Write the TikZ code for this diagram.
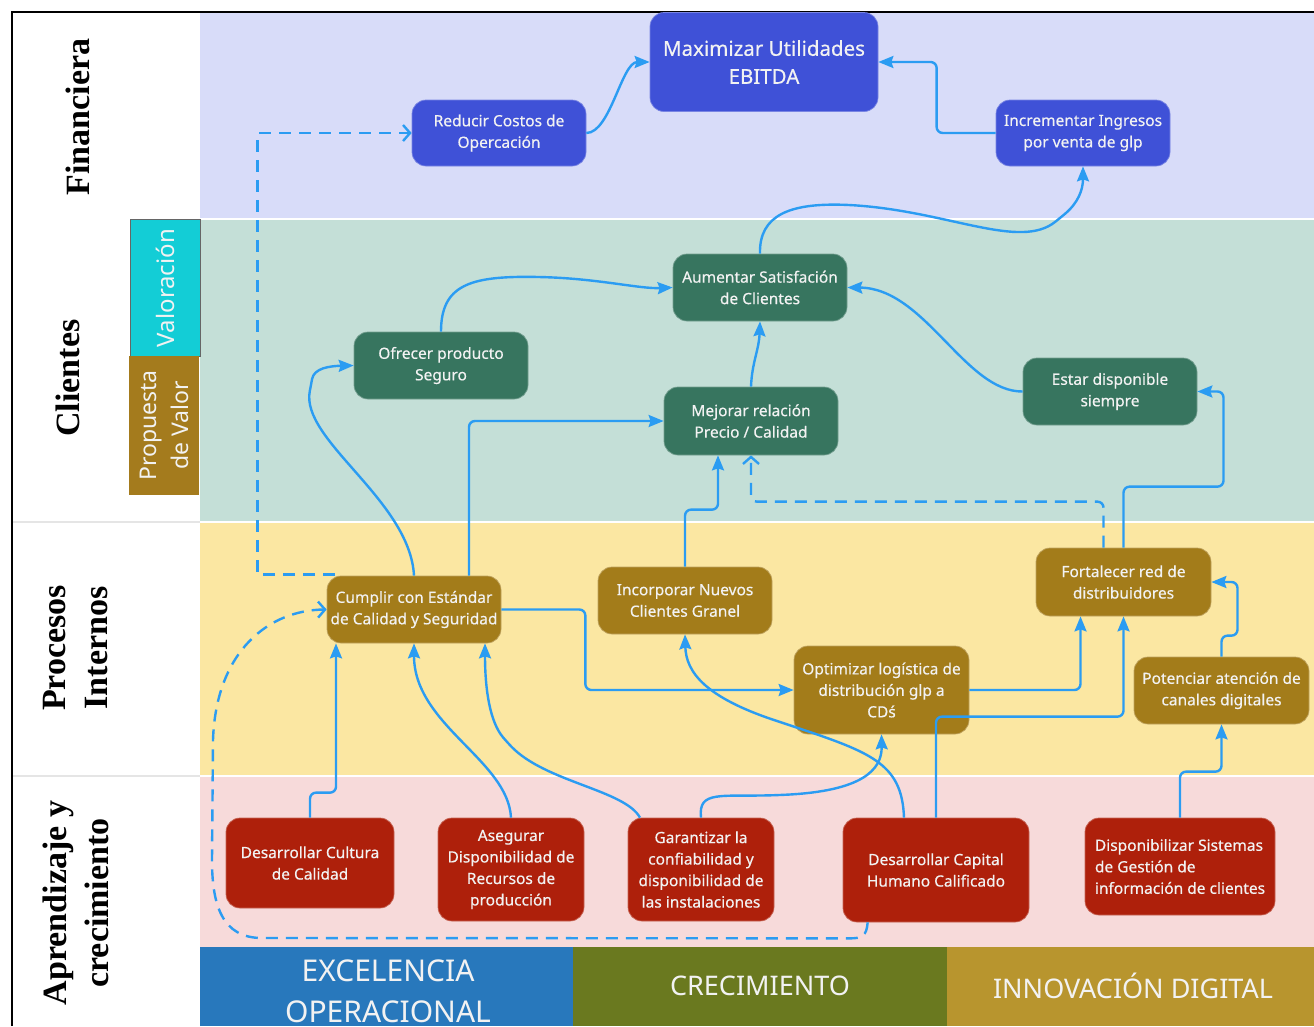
\documentclass[tikz,border=0pt]{standalone}
\usepackage{fontspec}
\setmainfont{Noto Sans}
\newfontfamily\nodefont[FakeBold=0.4]{Noto Sans}
\newfontfamily\headfont{Liberation Serif}
\usetikzlibrary{arrows.meta,calc}

\definecolor{finbg}{HTML}{D8DCF9}
\definecolor{clibg}{HTML}{C4DFD7}
\definecolor{probg}{HTML}{FBE7A2}
\definecolor{aprbg}{HTML}{F7DADA}
\definecolor{finnode}{HTML}{3F51D7}
\definecolor{clinode}{HTML}{37755F}
\definecolor{pronode}{HTML}{A37C1A}
\definecolor{aprnode}{HTML}{AE200B}
\definecolor{link}{HTML}{2B9CF2}
\definecolor{excel}{HTML}{2878BC}
\definecolor{creci}{HTML}{6A791F}
\definecolor{innov}{HTML}{B8952E}
\definecolor{valor}{HTML}{13CDD6}
\definecolor{propu}{HTML}{A47B1D}
\definecolor{ntext}{HTML}{F2F2F2}

\tikzset{
  obj/.style={rounded corners=14pt, inner sep=2pt, align=center, text=ntext,
    font=\nodefont\fontsize{15.5}{21.5}\selectfont, fill=#1, draw=#1!70!white, line width=0.7pt},
  conn/.style={draw=link, line width=2.4pt, rounded corners=6pt,
    -{Stealth[length=15pt,width=12pt,inset=2pt]}},
  dconn/.style={draw=link, line width=2.4pt, dash pattern=on 12pt off 8pt,
    -{Straight Barb[length=7pt,width=16pt]}},
  persp/.style={font=\headfont\bfseries\fontsize{34}{42}\selectfont, rotate=90, align=center},
  theme/.style={text=ntext, font=\fontsize{27}{41}\selectfont, align=center},
}

\begin{document}
\begin{tikzpicture}[x=1pt,y=-1pt]
\useasboundingbox (0,0) rectangle (1314,1026);
\clip (0,0) rectangle (1314,1026);
\fill[white] (0,0) rectangle (1314,1026);

% perspective bands
\fill[finbg] (200,13) rectangle (1314,218);
\fill[clibg] (200,220) rectangle (1314,520.5);
\fill[probg] (200,522.5) rectangle (1314,775);
\fill[aprbg] (200,777) rectangle (1314,947);

% strategic themes
\fill[excel] (200,947) rectangle (573,1026);
\fill[creci] (573,947) rectangle (947,1026);
\fill[innov] (947,947) rectangle (1314,1026);
\node[theme, font=\fontsize{30}{41}\selectfont] (texcel) at (388,991) {EXCELENCIA\\OPERACIONAL};
\node[theme] (tcreci) at (760,986) {CRECIMIENTO};
\node[theme] (tinnov) at (1133,986) {INNOVACIÓN DIGITAL};

% left column separators and frame
\draw[black!10, line width=1.5pt] (12,522) -- (200,522);
\draw[black!10, line width=1.5pt] (12,776) -- (200,776);
\draw[black, line width=2pt] (12,1026) -- (12,12) -- (1314,12);

% perspective labels
\node[persp] (lfin) at (78,117) {Financiera};
\node[persp] (lcli) at (68,378) {Clientes};
\node[persp] (lpro) at (76,648) {Procesos\\Internos};
\node[persp] (lapr) at (76,903) {Aprendizaje y\\crecimiento};

% customer sub-labels
\node[draw=black!60, line width=0.8pt, fill=valor, minimum width=137pt, minimum height=70pt,
  rotate=90, text=ntext, font=\fontsize{24}{30}\selectfont] (valora) at (165,288) {Valoración};
\node[fill=propu, minimum width=139pt, minimum height=70pt, rotate=90, align=center,
  text=ntext, font=\fontsize{23}{32}\selectfont] (propuesta) at (164,425.5) {Propuesta\\de Valor};

% objectives: financial
\node[obj=finnode, minimum width=228pt, minimum height=99pt, font=\nodefont\fontsize{20.5}{28}\selectfont]
  (maxim) at (764,62) {Maximizar Utilidades\\EBITDA};
\node[obj=finnode, minimum width=174pt, minimum height=66pt] (reducir) at (499,133) {Reducir Costos de\\Opercación};
\node[obj=finnode, minimum width=174pt, minimum height=66pt] (incr) at (1083,133) {Incrementar Ingresos\\por venta de glp};

% objectives: customers
\node[obj=clinode, minimum width=174pt, minimum height=67pt] (aument) at (760,287.5) {Aumentar Satisfación\\de Clientes};
\node[obj=clinode, minimum width=174pt, minimum height=67pt] (ofrecer) at (441,365.5) {Ofrecer producto\\Seguro};
\node[obj=clinode, minimum width=174pt, minimum height=68pt] (mejorar) at (751,421) {Mejorar relación\\Precio / Calidad};
\node[obj=clinode, minimum width=174pt, minimum height=67pt] (estar) at (1110,391.5) {Estar disponible\\siempre};

% objectives: internal processes
\node[obj=pronode, minimum width=174pt, minimum height=67pt] (cumplir) at (414,609.5) {Cumplir con Estándar\\de Calidad y Seguridad};
\node[obj=pronode, minimum width=174pt, minimum height=67pt] (incorp) at (685,600.5) {Incorporar Nuevos\\Clientes Granel};
\node[obj=pronode, minimum width=175pt, minimum height=88pt] (optim) at (881.5,690) {Optimizar logística de\\distribución glp a\\CDś};
\node[obj=pronode, minimum width=175pt, minimum height=68pt] (fort) at (1123.5,582) {Fortalecer red de\\distribuidores};
\node[obj=pronode, minimum width=175pt, minimum height=67pt] (poten) at (1221.5,690.5) {Potenciar atención de\\canales digitales};

% objectives: learning and growth
\node[obj=aprnode, minimum width=168pt, minimum height=90pt] (dcult) at (310,863) {Desarrollar Cultura\\de Calidad};
\node[obj=aprnode, minimum width=146pt, minimum height=103pt] (aseg) at (511,869.5) {Asegurar\\Disponibilidad de\\Recursos de\\producción};
\node[obj=aprnode, minimum width=146pt, minimum height=103pt] (garant) at (701,869.5) {Garantizar la\\confiabilidad y\\disponibilidad de\\las instalaciones};
\node[obj=aprnode, minimum width=186pt, minimum height=104pt] (dcap) at (936,870) {Desarrollar Capital\\Humano Calificado};
\node[obj=aprnode, minimum width=190pt, minimum height=97pt, align=left] (disp) at (1180,866.5) {Disponibilizar Sistemas\\de Gestión de\\información de clientes};

% cause-effect links
\draw[conn] (reducir.east) .. controls +(24,0) and +(-28,0) .. (maxim.west);
\draw[conn] (incr.west) -- ++(-59,0) |- (maxim.east);
\draw[conn] (aument.north) .. controls (759,215) and (790,203) .. (850,205)
  .. controls (950,212) and (1020,250) .. (1060,218) .. controls (1078,203) and (1083,190) .. (incr.south);
\draw[conn] (ofrecer.north) .. controls (441,285) and (470,276) .. (540,277)
  .. controls (600,279) and (640,289) .. (aument.west);
\draw[conn] (cumplir.north) .. controls (410,500) and (300,440) .. (311,385)
  .. controls (314,368) and (330,366) .. (ofrecer.west);
\draw[conn] ($(cumplir.north)+(55,0)$) |- (mejorar.west);
\draw[conn] (incorp.north) -- ++(0,-57) -| ($(mejorar.south)+(-33,0)$);
\draw[dconn, rounded corners=6pt] ($(fort.north)+(-20,0)$) -- ++(0,-46) -| (mejorar.south);
\draw[conn] (mejorar.north) .. controls (752,362) and (759,350) .. (aument.south);
\draw[conn] (estar.west) .. controls (965,392) and (925,288) .. (aument.east);
\draw[conn] (fort.north) -- ++(0,-61) -- ++(100,0) |- (estar.east);
\draw[conn] (cumplir.east) -- ++(84,0) |- (optim.west);
\draw[conn] (optim.east) -| ($(fort.south)+(-43,0)$);
\draw[conn] (dcap.north) -- ++(0,-101) -| (fort.south);
\draw[conn] (poten.north) -- ++(0,-21) -- ++(16,0) |- (fort.east);
\draw[conn] (disp.north) -- ++(0,-46) -| (poten.south);
\draw[conn] (dcult.north) -- ++(0,-25) -| ($(cumplir.south)+(-78,0)$);
\draw[conn] (aseg.north) .. controls (508,760) and (414,725) .. (cumplir.south);
\draw[conn] ($(garant.north)+(-61,0)$) .. controls (625,790) and (545,782) .. (507,742)
  .. controls (490,722) and (485,690) .. ($(cumplir.south)+(71,0)$);
\draw[conn] (garant.north) .. controls (698,790) and (720,797) .. (780,795)
  .. controls (862,791) and (882,770) .. (optim.south);
\draw[conn] ($(dcap.north)+(-32,0)$) .. controls (902,762) and (870,752) .. (780,722)
  .. controls (705,697) and (686,672) .. (incorp.south);

% dashed links
\draw[dconn] ($(dcap.south west)+(25,0)$) .. controls +(-1,14) and +(12,0) .. ++(-18,16)
  -- (262,938) .. controls (222,938) and (212,905) .. (212,860)
  -- (213,740) .. controls (216,650) and (270,610) .. (cumplir.west);
\draw[dconn] ($(cumplir.north west)+(8,-1)$) -- ++(-77,0) |- (reducir.west);
\end{tikzpicture}
\end{document}
